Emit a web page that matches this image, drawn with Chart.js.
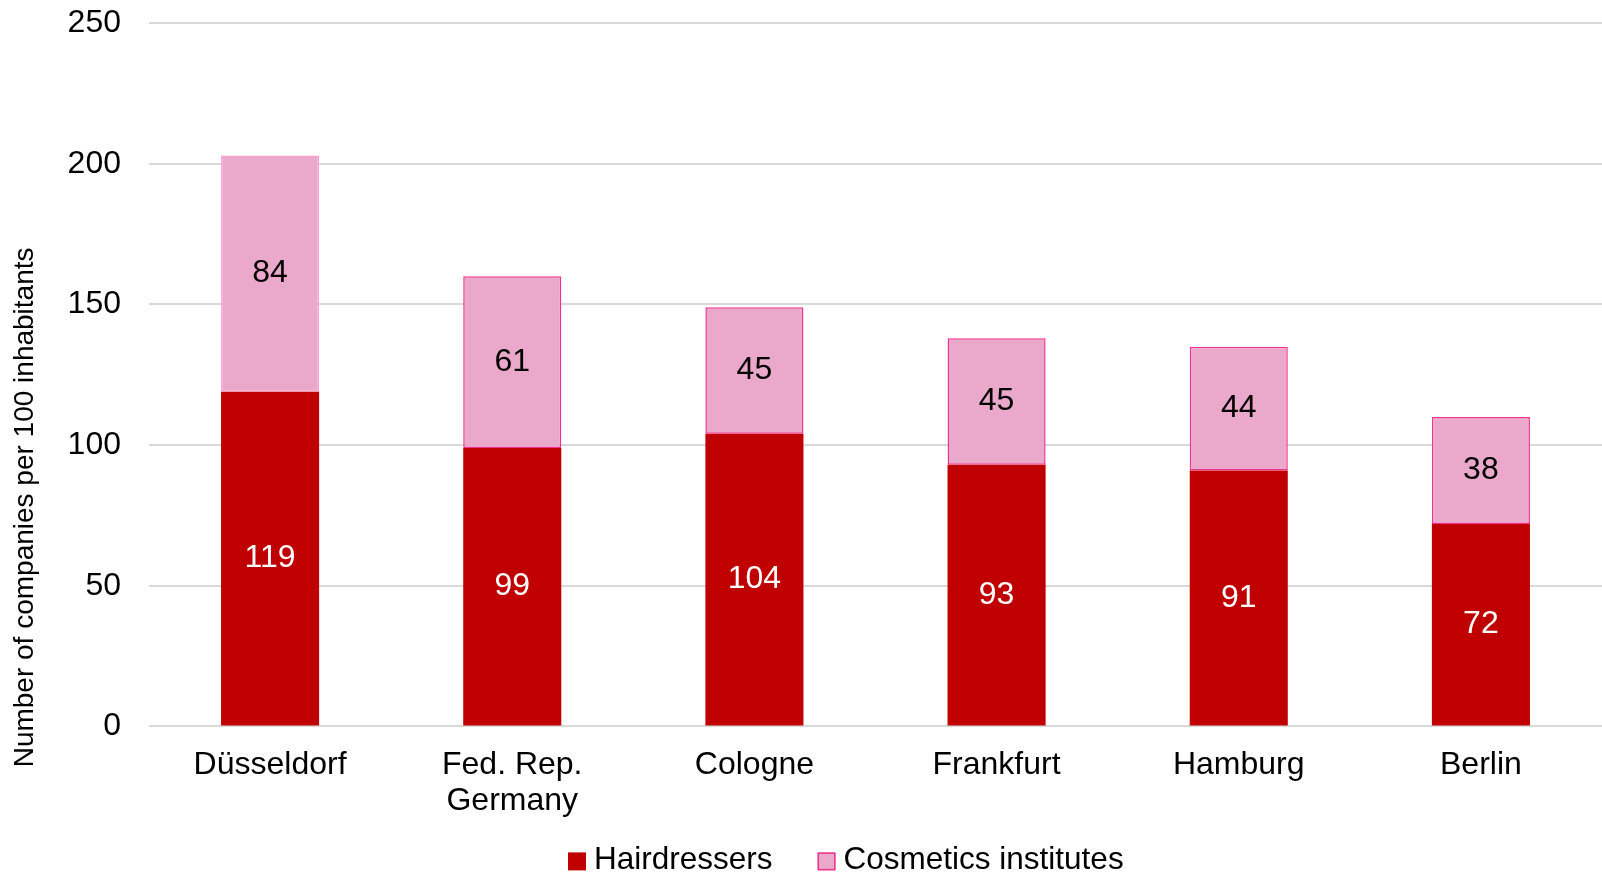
<!DOCTYPE html>
<html>
<head>
<meta charset="utf-8">
<script src="https://cdn.jsdelivr.net/npm/chart.js@4/dist/chart.umd.min.js"></script>
<style>
  html, body { margin: 0; padding: 0; background: #fff; overflow: hidden; }
  #wrap { width: 1602px; height: 875px; overflow: hidden; }
  #barChart { display: block; margin-top: -24px; }
</style>
</head>
<body>
<div id="wrap"><canvas id="barChart" width="1602" height="900"></canvas></div>
<script>
  const cities = ['Düsseldorf', ['Fed. Rep.', 'Germany'], 'Cologne', 'Frankfurt', 'Hamburg', 'Berlin'];
  const hairdressers = [119, 99, 104, 93, 91, 72];
  const cosmetics = [84, 61, 45, 45, 44, 38];
  const yTicks = [0, 50, 100, 150, 200, 250];
  const yTitle = 'Number of companies per 100 inhabitants';

  const FONT = 'Liberation Sans, Arial, sans-serif';

  // 막대 안에 값 표시 + 세로축 제목 + 범례
  const extras = {
    id: 'extras',
    afterDatasetsDraw(chart) {
      const ctx = chart.ctx;
      ctx.save();
      ctx.font = '32px ' + FONT;
      ctx.textAlign = 'center';
      ctx.textBaseline = 'middle';
      chart.data.datasets.forEach((ds, i) => {
        const meta = chart.getDatasetMeta(i);
        meta.data.forEach((bar, j) => {
          const y = (bar.y + bar.base) / 2;
          ctx.fillStyle = i === 0 ? '#ffffff' : '#000000';
          ctx.fillText(String(ds.data[j]), bar.x, y);
        });
      });
      ctx.restore();
    },
    afterDraw(chart) {
      const ctx = chart.ctx;
      const zeroY = chart.scales.y.getPixelForValue(0);

      // 축 제목은 엑셀처럼 조금 아래쪽에 위치
      ctx.save();
      ctx.translate(25, zeroY - 219);
      ctx.rotate(-Math.PI / 2);
      ctx.font = '28px ' + FONT;
      ctx.fillStyle = '#000';
      ctx.textAlign = 'center';
      ctx.textBaseline = 'middle';
      ctx.fillText(yTitle, 0, 0);
      ctx.restore();

      // 범례
      ctx.save();
      ctx.font = '31.5px ' + FONT;
      ctx.textBaseline = 'middle';
      ctx.textAlign = 'left';
      const ly = zeroY + 135;
      let x = 568;
      chart.data.datasets.forEach((ds, i) => {
        ctx.fillStyle = ds.backgroundColor;
        ctx.fillRect(x, ly - 9, 18, 18);
        if (i === 1) {
          ctx.strokeStyle = '#F0338F';
          ctx.lineWidth = 1.5;
          ctx.strokeRect(x + 0.75, ly - 8.25, 16.5, 16.5);
        }
        ctx.fillStyle = '#000';
        ctx.fillText(ds.label, x + 26, ly - 1);
        x += 26 + ctx.measureText(ds.label).width + 45;
      });
      ctx.restore();
    }
  };

  const ctx = document.getElementById('barChart').getContext('2d');
  const barChart = new Chart(ctx, {
    type: 'bar',
    data: {
      labels: cities,
      datasets: [
        {
          label: 'Hairdressers',
          data: hairdressers,
          backgroundColor: '#C00000',
          borderColor: '#C00000',
          borderWidth: 0
        },
        {
          label: 'Cosmetics institutes',
          data: cosmetics,
          backgroundColor: '#EAA9CB',
          borderColor: ['#FF9ECF', '#F0338F', '#F0338F', '#F0338F', '#F0338F', '#F0338F'],
          borderWidth: 1.5,
          borderSkipped: false
        }
      ]
    },
    options: {
      responsive: false,
      animation: false,
      layout: { padding: { left: 8, right: 0, top: 0, bottom: 44 } },
      datasets: {
        bar: { categoryPercentage: 1, barPercentage: 0.405 }
      },
      plugins: {
        legend: { display: false },
        tooltip: { enabled: false }
      },
      scales: {
        x: {
          stacked: true,
          grid: { display: false },
          border: { display: false },
          ticks: {
            color: '#000',
            font: { size: 32, family: FONT, lineHeight: 1.15 },
            padding: 12,
            maxRotation: 0
          }
        },
        y: {
          stacked: true,
          min: 0,
          max: 250,
          afterBuildTicks(scale) {
            scale.ticks = yTicks.map(v => ({ value: v }));
          },
          grid: { color: '#D9D9D9', lineWidth: 2, drawTicks: false },
          border: { display: false },
          ticks: {
            color: '#000',
            font: { size: 32, family: FONT },
            padding: 28
          },
          afterFit(scale) {
            scale.width = 141;
          }
        }
      }
    },
    plugins: [extras]
  });
</script>
</body>
</html>
